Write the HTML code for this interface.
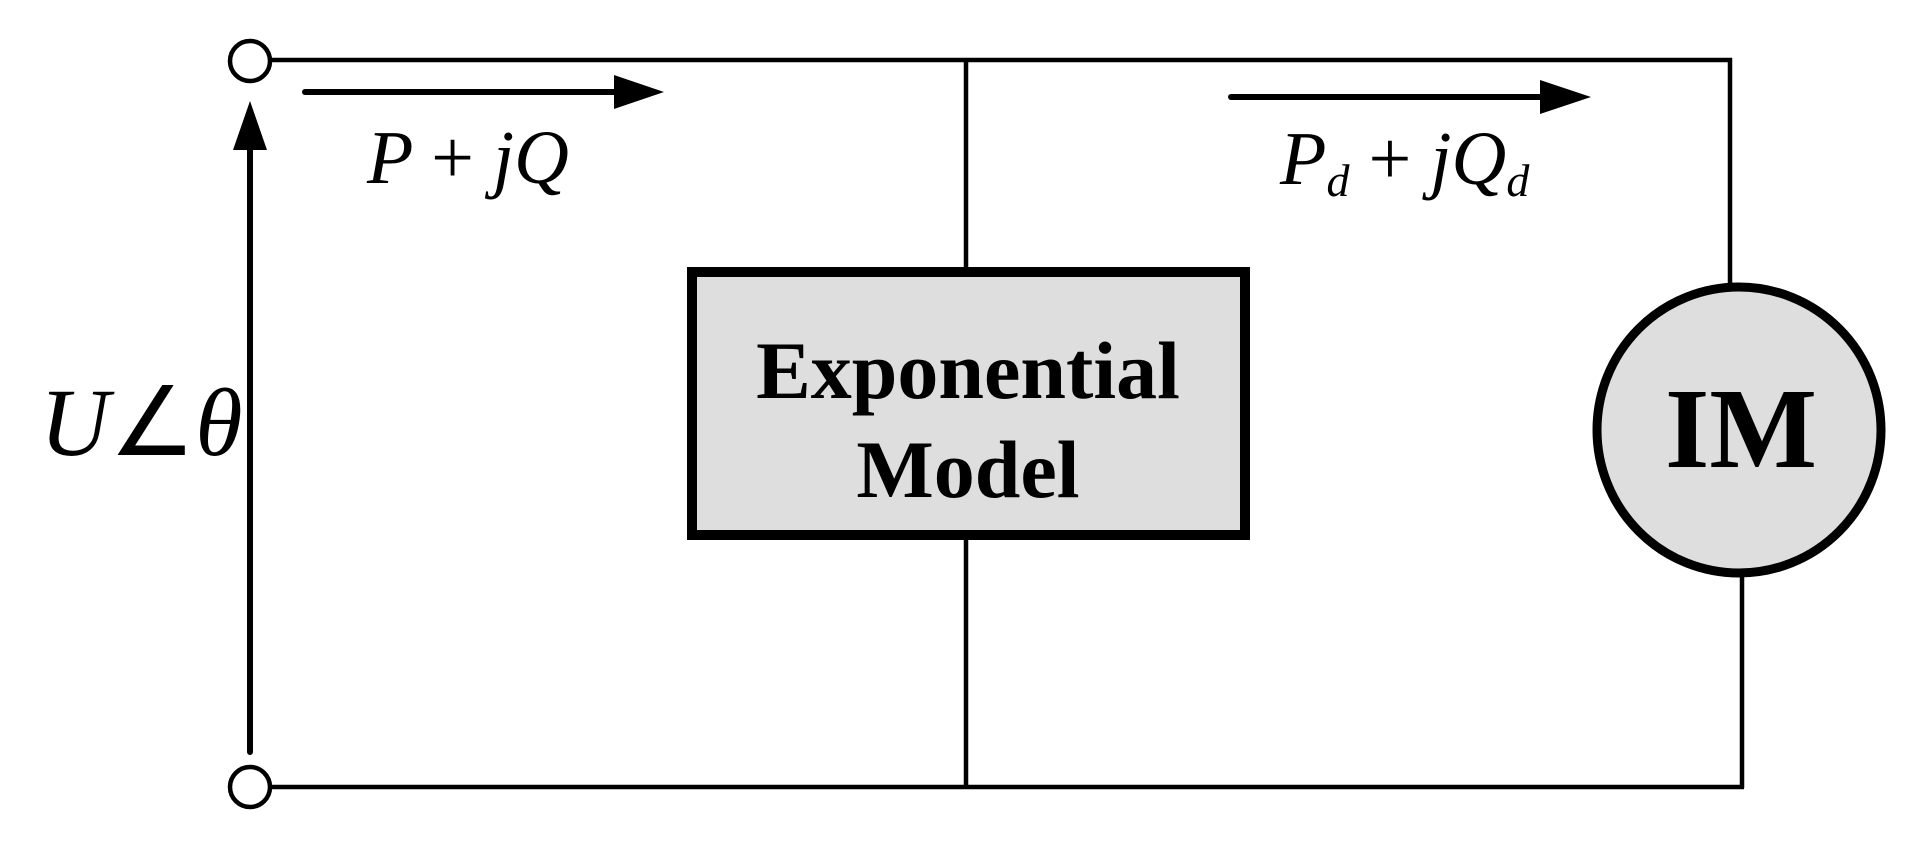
<!DOCTYPE html>
<html><head><style>html,body{margin:0;padding:0;background:#fff;}svg{display:block}
text{font-family:"Liberation Serif","Times New Roman",Times,serif;}</style></head>
<body>
<svg width="1919" height="854" viewBox="0 0 1919 854" xmlns="http://www.w3.org/2000/svg">
<g stroke="#000" stroke-width="4.5" fill="none">
<line x1="270" y1="60" x2="1732" y2="60"/>
<line x1="1730" y1="58" x2="1730" y2="284"/>
<line x1="1742" y1="576" x2="1742" y2="788"/>
<line x1="270" y1="787" x2="1744" y2="787"/>
<line x1="966" y1="58" x2="966" y2="789"/>
<circle cx="250" cy="61" r="20"/>
<circle cx="250" cy="787" r="20"/>
</g>
<rect x="692" y="272" width="553" height="263" fill="#dedede" stroke="#000" stroke-width="10"/>
<ellipse cx="1739" cy="430" rx="142" ry="143" fill="#dedede" stroke="#000" stroke-width="9"/>
<g stroke="#000" stroke-width="6" stroke-linecap="round">
<line x1="250" y1="752" x2="250" y2="140"/>
<line x1="305" y1="92" x2="620" y2="92"/>
<line x1="1231" y1="97" x2="1545" y2="97"/>
</g>
<polygon points="250,101 233,150 267,150" fill="#000"/>
<polygon points="664,92 614,75 614,109" fill="#000"/>
<polygon points="1591,97 1540,80 1540,114" fill="#000"/>
<g fill="#000">
<text x="367" y="183" font-size="76" font-style="italic">P <tspan font-style="normal">+</tspan> jQ</text>
<text x="1280" y="184" font-size="76" font-style="italic">P<tspan font-size="46" dy="12">d</tspan><tspan dy="-12" font-style="normal"> + </tspan>jQ<tspan font-size="46" dy="12">d</tspan></text>
<text x="40" y="455" font-size="96" font-style="italic">U<tspan font-style="normal">∠</tspan>θ</text>
<text x="968" y="398" font-size="82" font-weight="bold" text-anchor="middle">Exponential</text>
<text x="968" y="497" font-size="82" font-weight="bold" text-anchor="middle">Model</text>
<text x="1741" y="467" font-size="114" font-weight="bold" text-anchor="middle">IM</text>
</g>
</svg>
</body></html>
